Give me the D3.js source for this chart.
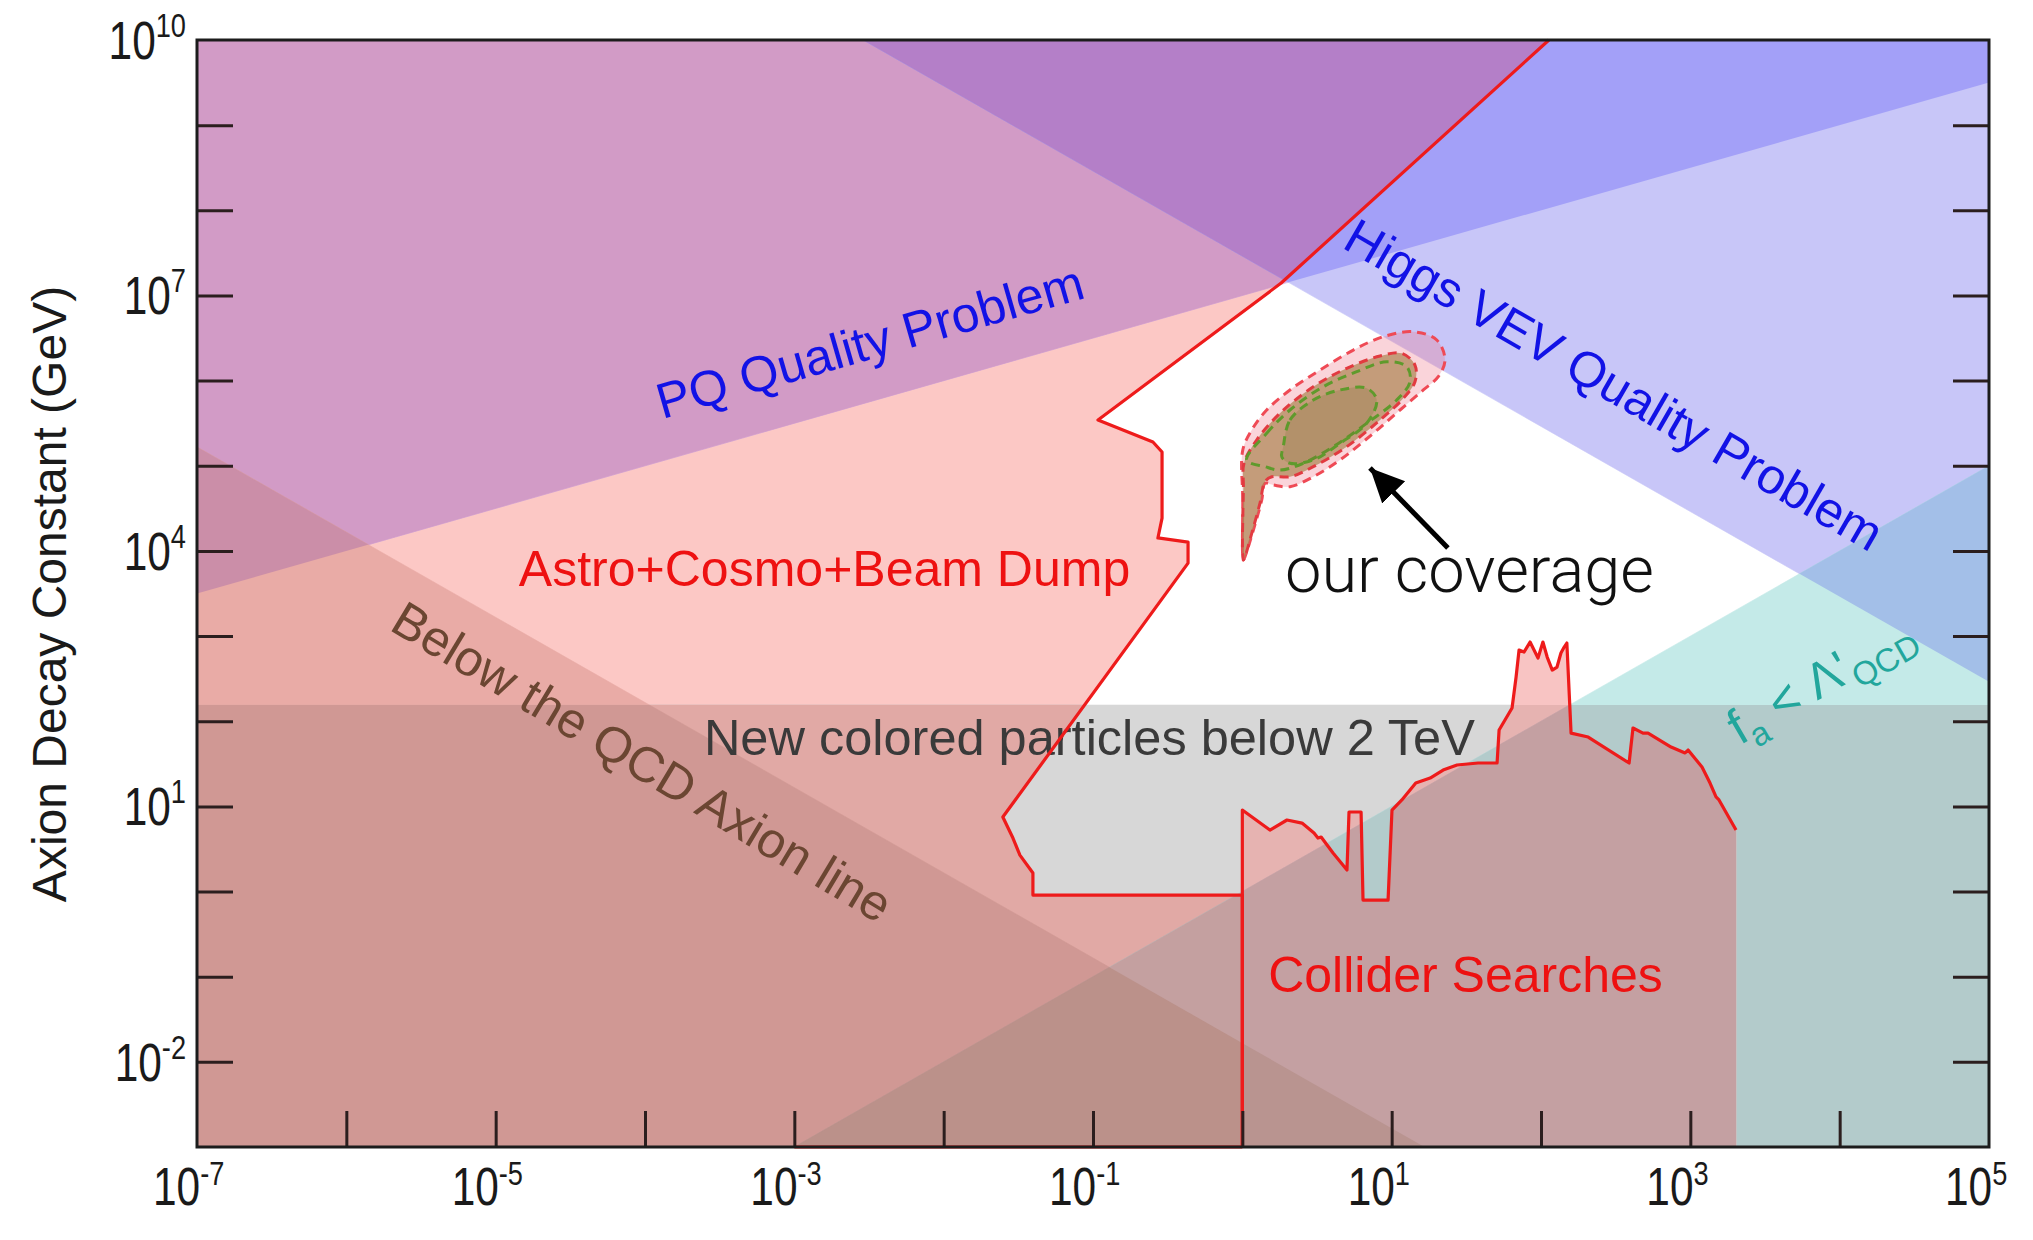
<!DOCTYPE html>
<html><head><meta charset="utf-8">
<script src="https://cdn.jsdelivr.net/npm/d3@7"></script>
<style>html,body{margin:0;padding:0;background:#fff;} svg{display:block;}</style>
</head><body><svg id="chart" width="2033" height="1240"></svg>
<script>
// ------------------ DATA (axion mass m_a [GeV], decay constant f_a [GeV]) ------------------
const xDomain = [1e-7, 1e5];
const yDomain = [1e-3, 1e10];
const xTickExponents = [-7, -5, -3, -1, 1, 3, 5];
const yTickExponents = [-2, 1, 4, 7, 10];
const minorDecadesX = d3.range(-6, 5);
const minorDecadesY = d3.range(-2, 10);

// Astro + Cosmo + Beam Dump excluded boundary (from the top edge downwards)
const astroBoundary = [
  [113, 1e10], [1.82, 1.4e7], [0.108, 3.44e5], [0.252, 1.9e5], [0.29, 1.45e5],
  [0.29, 2.43e4], [0.272, 1.42e4], [0.433, 1.27e4], [0.433, 7.2e3], [0.0249, 7.5],
  [0.0291, 4.25], [0.0324, 2.68], [0.0396, 1.65], [0.0396, 0.91], [1.0, 0.91], [1.0, 1e-3]
];
const astroFloor = [[1e-3, 1e-3], [1.0, 1e-3]];

// Collider searches boundary
const colliderBoundary = [
  [1.0, 1e-3], [1.0, 9.06], [1.53, 5.27], [1.99, 6.92], [2.51, 6.37], [3.02, 4.86],
  [3.21, 4.25], [3.37, 4.37], [4.05, 2.83], [5.02, 1.79], [5.18, 8.59], [6.24, 8.59],
  [6.43, 0.794], [9.46, 0.794], [10.05, 9.06], [11.7, 11.9], [14.5, 18.8], [18.1, 21.5],
  [22.1, 26.7], [27.4, 30.6], [37.9, 32.3], [50.8, 32.3], [52.4, 78.8], [64.0, 143],
  [68.1, 330], [71.3, 686], [76.9, 649], [84.5, 851], [91.2, 649], [95.5, 552],
  [103, 851], [110, 567], [119, 399], [128, 433], [136, 632], [143, 743], [149, 828],
  [159, 72.6], [207, 65.2], [389, 32.3], [413, 83.2], [482, 72.6], [521, 72.6],
  [743, 49.8], [922, 42.4], [966, 45.9], [1197, 29.0], [1355, 18.8], [1486, 12.9],
  [1556, 11.9], [2023, 5.27]
];

// straight boundaries
const pqBoundary = [[1e-7, 3.16e3], [1e5, 3.16e9]];          // PQ quality problem (above)
const higgsBoundary = [[2.9e-3, 1e10], [1e5, 2.9e2]];        // Higgs VEV quality problem (above)
const qcdAxionLine = [[1e-7, 1.66e5], [16.6, 1e-3]];          // below the QCD axion line
const lambdaQcdLine = [[1e-3, 1e-3], [1e5, 1e5]];             // f_a < Lambda'_QCD (below)
const coloredParticleLimit = 155;                              // new coloured particles below 2 TeV

// "our coverage" contours, as [log10 m_a, log10 f_a]
const coverageOuterLog = [[0.007,3.893],[0.003,4.598],[0.003,5.185],[0.063,5.420],[0.163,5.655],[0.319,5.890],[0.520,6.124],[0.743,6.359],[0.944,6.516],[1.145,6.574],[1.302,6.477],[1.357,6.242],[1.312,6.046],[1.212,5.890],[1.056,5.655],[0.877,5.381],[0.654,5.068],[0.475,4.871],[0.319,4.754],[0.208,4.774],[0.152,4.794],[0.130,4.598],[0.074,4.245],[0.018,3.932]];
const coverageMidLog = [[0.007,3.893],[0.007,4.754],[0.011,5.029],[0.096,5.302],[0.252,5.616],[0.475,5.928],[0.699,6.144],[0.922,6.289],[1.067,6.321],[1.156,6.183],[1.156,5.987],[1.078,5.792],[0.922,5.537],[0.699,5.224],[0.475,4.989],[0.319,4.871],[0.197,4.871],[0.152,4.813],[0.118,4.559],[0.063,4.207],[0.018,3.932]];
const coverageGreenLog = [[0.029,5.068],[0.163,5.381],[0.319,5.655],[0.542,5.928],[0.766,6.105],[0.967,6.222],[1.101,6.163],[1.123,5.987],[1.034,5.772],[0.833,5.499],[0.609,5.224],[0.408,5.029],[0.252,4.950],[0.152,4.989]];
const coverageInnerLog = [[0.274,5.224],[0.319,5.537],[0.475,5.772],[0.654,5.890],[0.833,5.910],[0.900,5.772],[0.833,5.499],[0.654,5.264],[0.475,5.068],[0.319,5.029],[0.264,5.106]];
const coverageArrow = [[23.8, 1.08e4], [7.16, 9.42e4]];

// colours of overlapping excluded regions (A astro, P PQ, H Higgs, Q QCD line, G coloured, T Lambda', C collider)
const regionColors = [
  ["A", "#fcc8c5"], ["P", "#d8b4e4"], ["H", "#c8c6f8"], ["G", "#d7d7d7"], ["T", "#c4eae8"], ["C", "#f8c4c3"],
  ["AP", "#d29bc6"], ["AH", "#c0a2dc"], ["AQ", "#e9aba6"], ["AG", "#e1a9a5"], ["PH", "#a3a0f8"],
  ["HT", "#a3bfe8"], ["GT", "#b3cbcb"], ["GC", "#e6b3b1"], ["CT", "#d8b4b8"],
  ["APH", "#b47fc8"], ["APQ", "#cb8ea8"], ["AGQ", "#d09894"], ["AGT", "#c4a0a0"], ["GCT", "#c4a0a2"],
  ["AGQT", "#bb918a"], ["GCQT", "#b99490"]
];

// ------------------ CHART ------------------
const W = 2033, H = 1240;
const plot = {left: 197, right: 1989, top: 40, bottom: 1147};
const svg = d3.select("#chart");
const x = d3.scaleLog().domain(xDomain).range([plot.left, plot.right]);
const y = d3.scaleLog().domain(yDomain).range([plot.bottom, plot.top]);
const line = d3.line().x(d => x(d[0])).y(d => y(d[1]));
const poly = pts => line(pts) + "Z";
const fromLog = arr => arr.map(([a, b]) => [Math.pow(10, a), Math.pow(10, b)]);

const [x0, x1] = xDomain, [y0, y1] = yDomain;
const zones = {
  A: [...astroBoundary, [x0, y0], [x0, y1]],
  P: [...pqBoundary, [x1, y1], [x0, y1]],
  H: [...higgsBoundary, [x1, y1]],
  Q: [...qcdAxionLine, [x0, y0]],
  G: [[x0, y0], [x0, coloredParticleLimit], [x1, coloredParticleLimit], [x1, y0]],
  T: [...lambdaQcdLine, [x1, y0]],
  C: [...colliderBoundary, [colliderBoundary[colliderBoundary.length - 1][0], y0]]
};

svg.append("rect").attr("width", W).attr("height", H).attr("fill", "#fff");
const defs = svg.append("defs");
defs.append("clipPath").attr("id", "plotclip").append("rect")
  .attr("x", plot.left).attr("y", plot.top)
  .attr("width", plot.right - plot.left).attr("height", plot.bottom - plot.top);
Object.entries(zones).forEach(([k, pts]) => {
  defs.append("clipPath").attr("id", "z" + k).append("path").attr("d", poly(pts));
});

const cellG = svg.append("g").attr("clip-path", "url(#plotclip)");
regionColors.slice().sort((a, b) => a[0].length - b[0].length).forEach(([key, color]) => {
  let g = cellG;
  const ks = key.split("");
  ks.slice(0, -1).forEach(k => { g = g.append("g").attr("clip-path", `url(#z${k})`); });
  g.append("path").attr("d", poly(zones[ks[ks.length - 1]])).attr("fill", color)
    .attr("stroke", color).attr("stroke-width", 0.6);
});

// coverage blob
const smooth = d3.line().x(d => x(d[0])).y(d => y(d[1])).curve(d3.curveCatmullRomClosed.alpha(0.5));
const blob = svg.append("g").attr("clip-path", "url(#plotclip)");
blob.append("path").attr("d", smooth(fromLog(coverageOuterLog)))
  .attr("fill", "rgba(240,120,140,0.32)").attr("stroke", "#ef4a55").attr("stroke-width", 3)
  .attr("stroke-dasharray", "9,6");
blob.append("path").attr("d", smooth(fromLog(coverageMidLog)))
  .attr("fill", "rgba(175,135,85,0.72)").attr("stroke", "#e23a40").attr("stroke-width", 3)
  .attr("stroke-dasharray", "9,6");
blob.append("path").attr("d", smooth(fromLog(coverageGreenLog)))
  .attr("fill", "none").attr("stroke", "#5f9a2c").attr("stroke-width", 3)
  .attr("stroke-dasharray", "9,6");
blob.append("path").attr("d", smooth(fromLog(coverageInnerLog)))
  .attr("fill", "rgba(120,110,50,0.22)").attr("stroke", "#5f9a2c").attr("stroke-width", 3)
  .attr("stroke-dasharray", "9,6");

// region labels
const font = "'Liberation Sans', Arial, Helvetica, sans-serif";
const label = (txt, pos, color, opts = {}) => {
  const t = svg.append("text")
    .attr("transform", `translate(${x(pos[0])},${y(pos[1])}) rotate(${opts.rotate || 0})`)
    .attr("font-family", font).attr("font-size", opts.size || 50).attr("fill", color)
    .attr("text-anchor", opts.anchor || "start")
    .attr("dominant-baseline", opts.baseline || "alphabetic")
    .text(txt);
  return t;
};
label("New colored particles below 2 TeV", [2.48e-4, 40.1], "#3a3a3a", {size: 50.5});
label("Astro+Cosmo+Beam Dump", [1.43e-5, 3.87e3], "#ee1111");
label("Collider Searches", [1.49, 0.066], "#ee1111");
label("PQ Quality Problem", [3.21e-3, 2.84e6], "#1212e6", {rotate: -16, anchor: "middle", baseline: "central"});
label("Higgs VEV Quality Problem", [308, 8.87e5], "#1212e6", {rotate: 30, anchor: "middle", baseline: "central"});
label("Below the QCD Axion line", [9.55e-5, 33.2], "#6b4632", {rotate: 31, anchor: "middle", baseline: "central"});

// f_a < Lambda'_QCD
const fa = svg.append("text")
  .attr("transform", `translate(${x(2153)},${y(52)}) rotate(-30)`)
  .attr("font-family", font).attr("font-size", 50).attr("fill", "#22a69c");
fa.append("tspan").text("f");
fa.append("tspan").attr("font-size", 33).attr("dy", 11).text("a");
fa.append("tspan").attr("dy", -11).text(" < Λ'");
fa.append("tspan").attr("font-size", 33).attr("dy", 11).text("QCD");

// red boundaries
const red = "#ee1b1b";
svg.append("path").attr("d", line(astroBoundary)).attr("fill", "none").attr("stroke", red).attr("stroke-width", 3.2).attr("stroke-linejoin", "round");
svg.append("path").attr("d", line(astroFloor)).attr("fill", "none").attr("stroke", red).attr("stroke-width", 3.2);
svg.append("path").attr("d", line(colliderBoundary)).attr("fill", "none").attr("stroke", red).attr("stroke-width", 3.2).attr("stroke-linejoin", "round");

// arrow + our coverage
defs.append("marker").attr("id", "arrowhead").attr("markerUnits", "userSpaceOnUse")
  .attr("markerWidth", 40).attr("markerHeight", 40).attr("refX", 34).attr("refY", 16)
  .attr("orient", "auto").append("path").attr("d", "M0,0 L34,16 L0,32 Z").attr("fill", "#000");
svg.append("line")
  .attr("x1", x(coverageArrow[0][0])).attr("y1", y(coverageArrow[0][1]))
  .attr("x2", x(coverageArrow[1][0])).attr("y2", y(coverageArrow[1][1]))
  .attr("stroke", "#000").attr("stroke-width", 5).attr("marker-end", "url(#arrowhead)");
svg.append("text")
  .attr("x", x(1.93)).attr("y", y(3.29e3))
  .attr("font-family", "Roboto, 'Open Sans', sans-serif").attr("font-weight", 300)
  .attr("font-size", 65).attr("fill", "#111").text("our coverage");

// axes (ticks inside)
const tickColor = "#2b1e1e";
const styleAxis = g => { g.select(".domain").remove(); g.selectAll("line").attr("stroke", tickColor).attr("stroke-width", 3); };
svg.append("g").attr("transform", `translate(${plot.left},0)`)
  .call(d3.axisLeft(y).tickValues(minorDecadesY.map(e => Math.pow(10, e))).tickSize(-36).tickFormat(""))
  .call(styleAxis);
svg.append("g").attr("transform", `translate(${plot.right},0)`)
  .call(d3.axisRight(y).tickValues(minorDecadesY.map(e => Math.pow(10, e))).tickSize(-36).tickFormat(""))
  .call(styleAxis);
svg.append("g").attr("transform", `translate(0,${plot.bottom})`)
  .call(d3.axisBottom(x).tickValues(minorDecadesX.map(e => Math.pow(10, e))).tickSize(-36).tickFormat(""))
  .call(styleAxis);

svg.append("rect").attr("x", plot.left).attr("y", plot.top)
  .attr("width", plot.right - plot.left).attr("height", plot.bottom - plot.top)
  .attr("fill", "none").attr("stroke", "#1c1c1c").attr("stroke-width", 3);

// tick labels
yTickExponents.forEach(e => {
  const t = svg.append("text")
    .attr("transform", `translate(186,${y(Math.pow(10, e)) + 19}) scale(0.8,1)`)
    .attr("font-family", font).attr("font-size", 53).attr("fill", "#1a1a1a").attr("text-anchor", "end");
  t.append("tspan").text("10");
  t.append("tspan").attr("font-size", 34).attr("dy", -22).text(String(e));
});
xTickExponents.forEach(e => {
  const t = svg.append("text")
    .attr("transform", `translate(${x(Math.pow(10, e)) - 44},1205) scale(0.8,1)`)
    .attr("font-family", font).attr("font-size", 53).attr("fill", "#1a1a1a");
  t.append("tspan").text("10");
  t.append("tspan").attr("font-size", 34).attr("dy", -20).text(String(e));
});

// y axis title
svg.append("text").attr("transform", `translate(66,594) rotate(-90)`)
  .attr("font-family", font).attr("font-size", 48).attr("fill", "#1a1a1a")
  .attr("text-anchor", "middle").text("Axion Decay Constant (GeV)");
</script></body></html>
